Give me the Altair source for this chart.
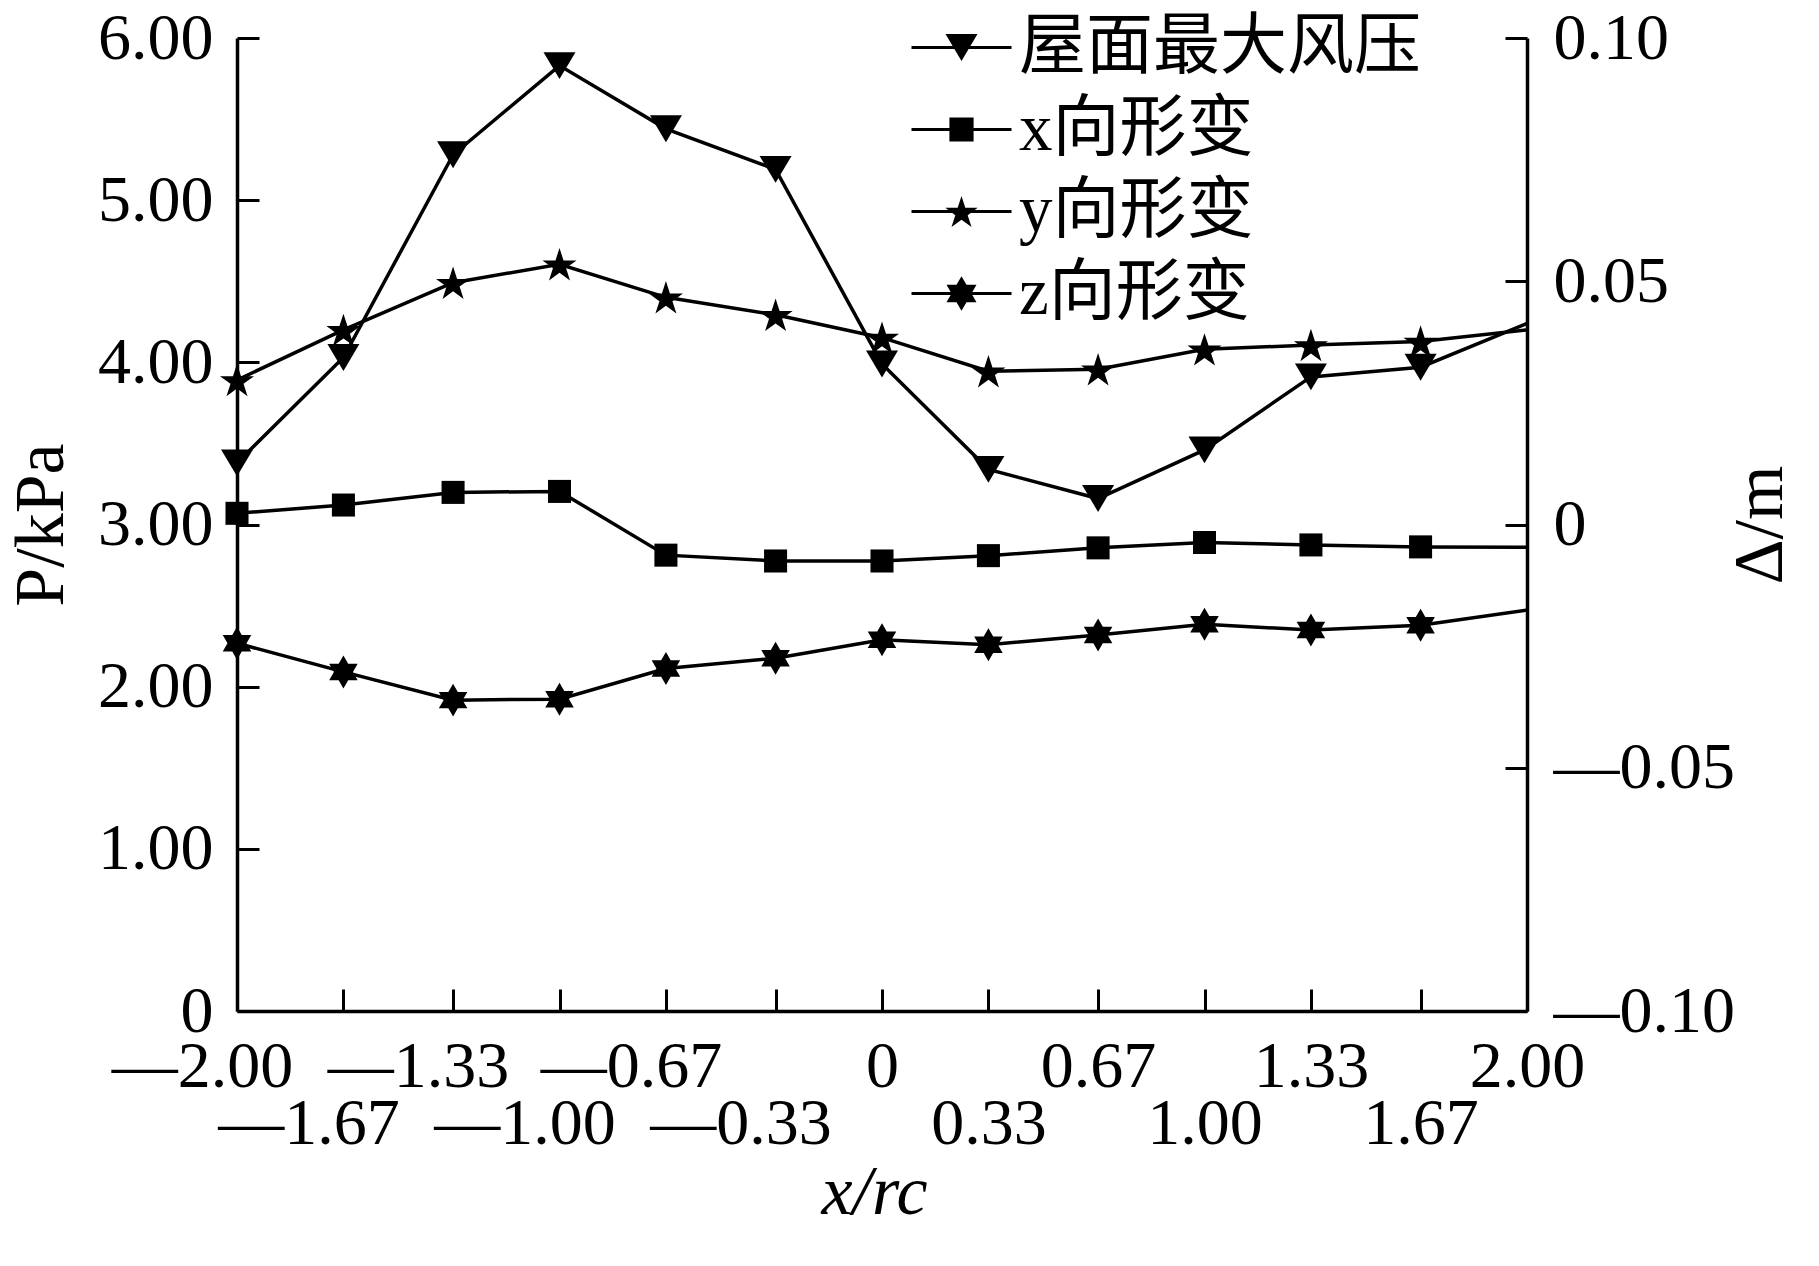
import math
import altair as alt
import pandas as pd

# ---------------- data ----------------
x_rc = [-2.00, -1.67, -1.33, -1.00, -0.67, -0.33, 0.00, 0.33, 0.67, 1.00, 1.33, 1.67, 2.00]
pressure = [3.38, 4.03, 5.28, 5.83, 5.44, 5.19, 3.99, 3.34, 3.16, 3.46, 3.91, 3.97, 4.24]
x_def = [0.0023, 0.0040, 0.0066, 0.0068, -0.0063, -0.0075, -0.0075, -0.0064, -0.0048, -0.0037, -0.0042, -0.0046, -0.0047]
y_def = [0.0297, 0.0400, 0.0497, 0.0535, 0.0467, 0.0431, 0.0384, 0.0315, 0.0319, 0.0360, 0.0369, 0.0376, 0.0400]
z_def = [-0.0244, -0.0303, -0.0361, -0.0359, -0.0296, -0.0275, -0.0237, -0.0247, -0.0227, -0.0205, -0.0217, -0.0207, -0.0176]
series_names = ["屋面最大风压", "x向形变", "y向形变", "z向形变"]
left_ticks = [0, 1, 2, 3, 4, 5, 6]
right_ticks = [-0.10, -0.05, 0.00, 0.05, 0.10]

df_p = pd.DataFrame({"x": x_rc, "P": pressure})
df_d = pd.DataFrame({
    "x": x_rc * 3,
    "D": x_def + y_def + z_def,
    "series": [series_names[1]] * len(x_rc) + [series_names[2]] * len(x_rc) + [series_names[3]] * len(x_rc),
})
df_leg = pd.DataFrame({"series": series_names})

# ---------------- marker shapes ----------------
def fmt(v):
    return f"{v:.3f}"

def tri_path(s):
    return f"M{fmt(-s)},{fmt(-0.84*s)}L{fmt(s)},{fmt(-0.84*s)}L0,{fmt(0.84*s)}Z"

def square_path(s):
    h = 0.72 * s
    return f"M{fmt(-h)},{fmt(-h)}L{fmt(h)},{fmt(-h)}L{fmt(h)},{fmt(h)}L{fmt(-h)},{fmt(h)}Z"

def star_path(n, R, r_in, shift):
    pts = []
    for k in range(2 * n):
        ang = -math.pi / 2 + k * math.pi / n
        rad = R if k % 2 == 0 else r_in
        pts.append((rad * math.cos(ang), rad * math.sin(ang) + shift))
    return "M" + "L".join(f"{fmt(px)},{fmt(py)}" for px, py in pts) + "Z"

def star5(s):
    R = 1.12 * s
    return star_path(5, R, 0.382 * R, 0.0955 * R)

def star6(s):
    R = 1.03 * s
    return star_path(6, R, R / math.sqrt(3), 0.0)

# legend symbol: marker plus a thin filled bar (same clockwise winding)
LEG_LINE = "M-3.125,-0.1L3.125,-0.1L3.125,0.1L-3.125,0.1Z"
legend_paths = [
    tri_path(1.0) + LEG_LINE,
    square_path(1.05) + LEG_LINE,
    star5(0.95) + LEG_LINE,
    star6(1.05) + LEG_LINE,
]

SERIF = "Liberation Serif"
MIXED = "Liberation Serif, Noto Sans CJK SC"
INWARD = alt.ExprRef(expr="-22")
LW = 3.5

num_expr = ("abs(datum.value) < 1e-9 ? '0' : (datum.value < 0 ? '\u2014' + format(-datum.value, '.2f') "
            ": format(datum.value, '.2f'))")

x_axis = alt.Axis(
    values=x_rc, labelExpr=num_expr, labelFont=SERIF, labelFontSize=66, labelLimit=600,
    labelPadding={"condition": {"test": "abs(round(datum.value*3)) % 2 == 1", "value": 102}, "value": 45},
    labelOffset={"condition": {"test": "datum.value < -0.001", "value": -35}, "value": 0},
    labelBaseline="top", labelAlign="center", labelFlush=False, labelOverlap=False, labelBound=False,
    tickSize=INWARD, tickWidth=3, tickColor="black", domainWidth=LW, domainColor="black",
    grid=False, title="x/rc", titleFont=SERIF, titleFontSize=70, titleFontStyle="italic",
    titleFontWeight="normal", titleX=637, titleY=202, titleBaseline="alphabetic", titleAlign="center",
)
X = alt.X("x:Q", scale=alt.Scale(domain=[-2, 2], nice=False, zero=False), axis=x_axis)

yl_axis = alt.Axis(
    orient="left", values=left_ticks, labelExpr=num_expr, labelFont=SERIF, labelFontSize=66,
    labelLimit=600, labelPadding=46, labelAlign="right", labelBaseline="middle", labelFlush=False,
    labelOverlap=False, tickSize=INWARD, tickWidth=3, tickColor="black", domainWidth=LW,
    domainColor="black", grid=False,
    title="P/kPa", titleFont=SERIF, titleFontSize=70, titleFontWeight="normal",
    titleX=-196, titleY=486.5, titleAngle=270, titleBaseline="middle", titleAlign="center",
)
Y_P = alt.Y("P:Q", scale=alt.Scale(domain=[0, 6], nice=False, zero=False), axis=yl_axis)

yr_axis = alt.Axis(
    orient="right", values=right_ticks, labelExpr=num_expr, labelFont=SERIF, labelFontSize=66,
    labelLimit=600, labelPadding=48, labelAlign="left", labelBaseline="middle", labelFlush=False,
    labelOverlap=False, tickSize=INWARD, tickWidth=3, tickColor="black", domainWidth=LW,
    domainColor="black", grid=False,
    title="Δ/m", titleFont=SERIF, titleFontSize=70, titleFontWeight="normal",
    titleX=233, titleY=486.5, titleAngle=270, titleBaseline="middle", titleAlign="center",
)
Y_D = alt.Y("D:Q", scale=alt.Scale(domain=[-0.1, 0.1], nice=False, zero=False), axis=yr_axis)

MSIZE = 1024

line_p = alt.Chart(df_p).mark_line(color="black", strokeWidth=LW).encode(x=X, y=Y_P)
pts_p = alt.Chart(df_p).transform_filter("datum.x < 1.99").mark_point(
    shape=tri_path(1.0), filled=True, color="black", opacity=1, size=MSIZE
).encode(x=X, y=Y_P)

line_d = alt.Chart(df_d).mark_line(color="black", strokeWidth=LW).encode(x=X, y=Y_D, detail="series:N")

def def_points(name, path):
    return alt.Chart(df_d).transform_filter(
        alt.FieldEqualPredicate(field="series", equal=name)
    ).transform_filter("datum.x < 1.99").mark_point(
        shape=path, filled=True, color="black", opacity=1, size=MSIZE
    ).encode(x=X, y=Y_D)

pts_x = def_points(series_names[1], square_path(1.0))
pts_y = def_points(series_names[2], star5(1.0))
pts_z = def_points(series_names[3], star6(1.0))

leg_layer = alt.Chart(df_leg).mark_point(
    filled=True, color="black", opacity=0
).encode(
    shape=alt.Shape(
        "series:N",
        scale=alt.Scale(domain=series_names, range=legend_paths),
        legend=alt.Legend(
            title=None, orient="none", legendX=691, legendY=-24, direction="vertical",
            symbolSize=MSIZE, symbolOffset=0, symbolStrokeWidth=0,
            symbolFillColor="black", symbolOpacity=1,
            labelFont=MIXED, labelFontSize=67, labelColor="black", labelOffset=24,
            labelBaseline="middle", labelLimit=1000, rowPadding=14, padding=0,
        ),
    )
)

left = alt.layer(line_p, pts_p)
right = alt.layer(line_d, pts_x, pts_y, pts_z, leg_layer)

chart = alt.layer(left, right).resolve_scale(y="independent").properties(
    width=1290, height=973,
    autosize=alt.AutoSizeParams(type="none"),
    padding={"left": 229, "top": 30, "right": 284, "bottom": 247},
    background="white",
).configure_view(strokeWidth=0).configure_axis(labelColor="black", titleColor="black")

chart.save("out.html", embed_options={"renderer": "svg", "actions": False})
